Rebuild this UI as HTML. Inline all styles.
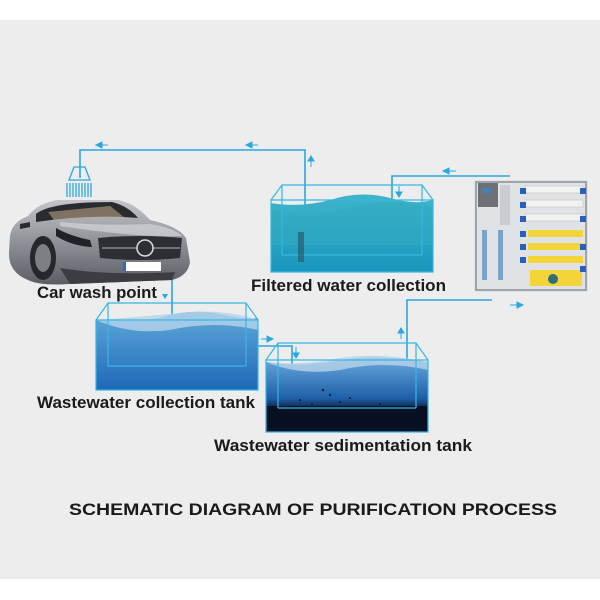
<!DOCTYPE html>
<html><head><meta charset="utf-8"><style>
html,body{margin:0;padding:0;background:#fff}
svg{display:block}
text{font-family:"Liberation Sans",sans-serif;font-weight:bold;fill:#1a1a1a}
</style></head><body>
<svg width="600" height="600" viewBox="0 0 600 600" xmlns="http://www.w3.org/2000/svg">
<defs>
<linearGradient id="teal" x1="0" y1="0" x2="0" y2="1"><stop offset="0" stop-color="#3fb5c9"/><stop offset="1" stop-color="#1896bd"/></linearGradient>
<linearGradient id="blue" x1="0" y1="0" x2="0" y2="1"><stop offset="0" stop-color="#5fa9d9"/><stop offset="1" stop-color="#1f68b8"/></linearGradient>
<linearGradient id="sed" x1="0" y1="0" x2="0" y2="1"><stop offset="0" stop-color="#6aa9dc"/><stop offset="0.55" stop-color="#1e5fa8"/><stop offset="0.7" stop-color="#0c1c3a"/><stop offset="1" stop-color="#08122a"/></linearGradient>
<linearGradient id="car" x1="0" y1="0" x2="0" y2="1"><stop offset="0" stop-color="#c4c6cb"/><stop offset="0.5" stop-color="#8e9197"/><stop offset="1" stop-color="#5a5d63"/></linearGradient>
</defs>
<rect x="0" y="20" width="600" height="559" fill="#ededed"/>

<!-- pipes -->
<g stroke="#2aa7df" stroke-width="1.6" fill="none">
<polyline points="80,178 80,150 305,150 305,268"/>
<polyline points="392,232 392,176 510,176"/>
<line x1="172" y1="278" x2="172" y2="356"/>
<polyline points="243,346 292,346 292,394"/>
<polyline points="407,396 407,300 492,300"/>
</g>
<g fill="#2aa7df">
<path d="M96,145 l6,-3 v6 z M102,145 h6" stroke="#2aa7df"/>
<path d="M246,145 l6,-3 v6 z M252,145 h6" stroke="#2aa7df"/>
<path d="M311,156 l-3,5 h6 z M311,161 v6" stroke="#2aa7df"/>
<path d="M443,171 l6,-3 v6 z M449,171 h7" stroke="#2aa7df"/>
<path d="M399,197 l-3,-5 h6 z M399,192 v-6" stroke="#2aa7df"/>
<path d="M165,299 l-3,-5 h6 z" />
<path d="M273,339 l-6,-3 v6 z M267,339 h-6" stroke="#2aa7df"/>
<path d="M296,358 l-3,-5 h6 z M296,353 v-6" stroke="#2aa7df"/>
<path d="M401,328 l-3,5 h6 z M401,333 v6" stroke="#2aa7df"/>
<path d="M523,305 l-6,-3 v6 z M517,305 h-7" stroke="#2aa7df"/>
</g>

<!-- shower -->
<g stroke="#2aa7df" fill="none" stroke-width="1.3">
<path d="M74,167 h11 l5,13 h-21 z"/>
<path d="M67,183 v14 M70,183 v14 M73,183 v14 M76,183 v14 M79,183 v14 M82,183 v14 M85,183 v14 M88,183 v14 M91,183 v14"/>
</g>

<!-- filtered tank -->
<path d="M271,203 Q300,208 330,200 Q360,190 390,198 Q415,205 433,200 V272 H271 Z" fill="url(#teal)"/>
<path d="M271,210 Q310,220 350,208 Q390,196 433,208 V245 H271 Z" fill="#2fa9bf" opacity="0.5"/>
<g stroke="#35b7e6" fill="none" stroke-width="1.2"><path d="M271,200 H433 V272 H271 Z M271,200 L282,185 H422 L433,200 M282,185 V255 M422,185 V255 M282,255 H422"/></g>
<rect x="298" y="232" width="6" height="30" fill="#2a5060" opacity="0.6"/>

<!-- wastewater tank -->
<path d="M96,320 Q130,322 160,318 Q190,308 220,314 Q245,320 258,318 V390 H96 Z" fill="url(#blue)"/>
<path d="M96,320 Q130,335 170,330 Q215,320 258,330 V320 Q230,310 190,312 Q150,316 96,320 Z" fill="#b8d3ea" opacity="0.8"/>
<g stroke="#35b7e6" fill="none" stroke-width="1.2"><path d="M96,320 H258 V390 H96 Z M96,320 L108,303 H246 L258,320 M108,303 V366 M246,303 V366 M108,366 H246"/></g>

<!-- sedimentation tank -->
<path d="M266,362 Q300,368 340,360 Q380,354 428,362 V432 H266 Z" fill="url(#sed)"/>
<path d="M266,362 Q300,376 340,370 Q385,360 428,370 V362 Q380,352 340,358 Q300,366 266,362 Z" fill="#b8d3ea" opacity="0.8"/>
<rect x="266" y="406" width="162" height="26" fill="#070f22"/>
<g fill="#0a1a3a"><circle cx="323" cy="390" r="1.2"/><circle cx="330" cy="395" r="1.2"/><circle cx="300" cy="400" r="1"/><circle cx="350" cy="398" r="1"/><circle cx="312" cy="404" r="1"/><circle cx="380" cy="404" r="1"/><circle cx="340" cy="402" r="1"/></g>
<g stroke="#35b7e6" fill="none" stroke-width="1.2"><path d="M266,360 H428 V432 H266 Z M266,360 L278,343 H416 L428,360 M278,343 V408 M416,343 V408 M278,408 H416"/></g>

<!-- car -->
<g>
<path d="M10,236 Q12,222 28,216 Q38,203 58,200 L118,200 Q135,203 150,220 Q178,226 186,238 L190,262 Q188,276 172,280 L70,284 Q40,286 28,280 Q8,272 9,252 Z" fill="url(#car)"/>
<path d="M36,214 Q50,202 112,202 Q128,206 138,218 Q90,214 36,222 Z" fill="#2a2b2f"/>
<path d="M48,212 L110,206 L124,217 L54,220 Z" fill="#b9a28a" opacity="0.6"/>
<path d="M20,224 l10,-2 v5 l-10,2 z" fill="#2a2b2f"/>
<path d="M60,222 Q100,226 150,224 Q175,228 182,236 Q140,238 60,226 Z" fill="#d2d4d8" opacity="0.7"/>
<ellipse cx="43" cy="258" rx="13" ry="22" fill="#26272b"/>
<ellipse cx="43" cy="258" rx="8" ry="14" fill="#7d7f84"/>
<path d="M98,238 Q140,234 182,238 L180,258 Q140,262 100,258 Z" fill="#2d2e33"/>
<path d="M102,248 H180" stroke="#bbb" stroke-width="1"/>
<circle cx="145" cy="248" r="8" fill="#2d2e33" stroke="#d8d8da" stroke-width="1.6"/>
<path d="M56,228 Q70,236 90,240 L92,247 Q72,246 56,236 Z" fill="#1f2226"/>
<path d="M60,268 Q110,276 175,272 L172,280 L70,284 Z" fill="#3b3d42"/>
<rect x="123" y="262" width="38" height="9" fill="#fff"/>
<rect x="123" y="262" width="3" height="9" fill="#2a6ad0"/>
</g>

<!-- RO machine -->
<g>
<rect x="474" y="180" width="114" height="112" fill="#dfe3e6"/>
<rect x="476" y="182" width="110" height="108" fill="none" stroke="#8a9097" stroke-width="1.5"/>
<rect x="478" y="183" width="20" height="24" fill="#6d7176"/>
<rect x="482" y="188" width="9" height="5" fill="#4a7fb0"/>
<rect x="482" y="230" width="5" height="50" fill="#7fa3c8"/>
<rect x="498" y="230" width="5" height="50" fill="#7fa3c8"/>
<rect x="500" y="185" width="10" height="40" fill="#c9cdd1"/>
<g fill="#f2f2f0" stroke="#b7bcc0" stroke-width="0.5">
<rect x="525" y="186" width="58" height="7"/><rect x="525" y="200" width="58" height="7"/><rect x="525" y="214" width="58" height="7"/>
</g>
<g fill="#f3d53a"><rect x="528" y="230" width="55" height="7"/><rect x="528" y="243" width="55" height="7"/><rect x="528" y="256" width="55" height="7"/><rect x="530" y="270" width="52" height="16"/></g>
<g fill="#2a5fc0"><rect x="520" y="188" width="6" height="6"/><rect x="520" y="202" width="6" height="6"/><rect x="520" y="216" width="6" height="6"/><rect x="520" y="231" width="6" height="6"/><rect x="520" y="244" width="6" height="6"/><rect x="520" y="257" width="6" height="6"/><rect x="580" y="188" width="6" height="6"/><rect x="580" y="216" width="6" height="6"/><rect x="580" y="244" width="6" height="6"/><rect x="580" y="266" width="6" height="6"/></g>
<circle cx="553" cy="279" r="5" fill="#2f6e7a"/>
</g>

<!-- labels -->
<text x="37" y="298" font-size="17" textLength="120" lengthAdjust="spacingAndGlyphs">Car wash point</text>
<text x="251" y="291" font-size="17" textLength="195" lengthAdjust="spacingAndGlyphs">Filtered water collection</text>
<text x="37" y="408" font-size="17" textLength="218" lengthAdjust="spacingAndGlyphs">Wastewater collection tank</text>
<text x="214" y="451" font-size="17" textLength="258" lengthAdjust="spacingAndGlyphs">Wastewater sedimentation tank</text>
<text x="69" y="515" font-size="17" textLength="488" lengthAdjust="spacingAndGlyphs">SCHEMATIC DIAGRAM OF PURIFICATION PROCESS</text>
</svg>
</body></html>
